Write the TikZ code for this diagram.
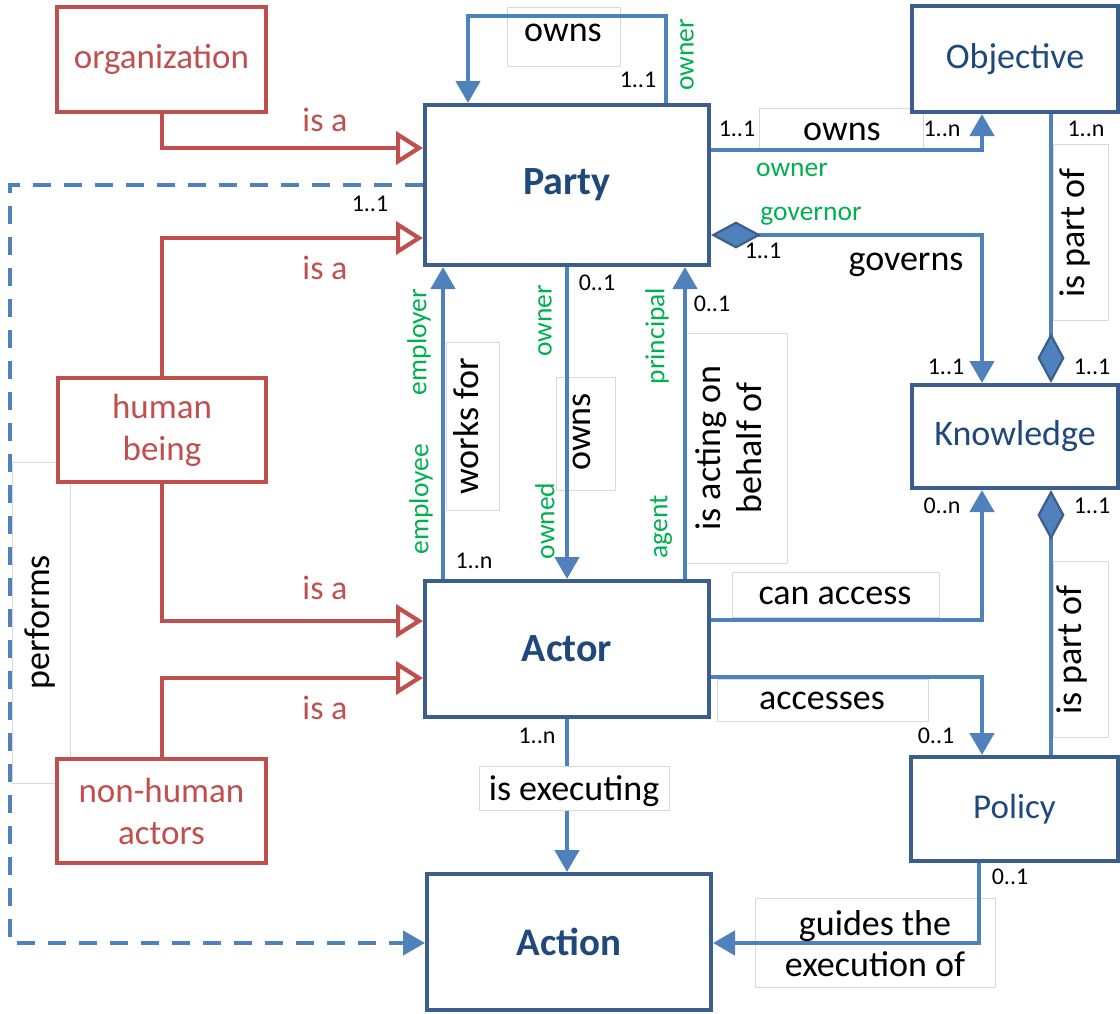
\documentclass[tikz,border=0pt]{standalone}
\usepackage{fontspec}
\setmainfont{Carlito}
\usetikzlibrary{arrows.meta}
\definecolor{bl}{HTML}{4F81BD}
\definecolor{bdark}{HTML}{3B5E8C}
\definecolor{btext}{HTML}{1F497D}
\definecolor{rd}{HTML}{C0504D}
\definecolor{gr}{HTML}{00B050}
\definecolor{lgray}{HTML}{D9D9D9}
\newcommand\fsz[2]{\fontsize{#1}{#2}\selectfont}
\tikzset{
  btri/.tip={Triangle[length=22pt,width=24pt]},
  rtri/.tip={Triangle[open,length=27pt,width=33pt,fill=white]},
  bdia/.tip={Diamond[length=50pt,width=27pt,fill=bl,color=bdark,line width=2.2pt]},
  bbox/.style={draw=bdark, line width=4pt, fill=white, text=btext, inner sep=0pt},
  rbox/.style={draw=rd, line width=4pt, fill=white, text=rd, inner sep=0pt, align=center, font=\fsz{35}{42}},
  conn/.style={draw=bl, line width=4.5pt},
  isa/.style={draw=rd, line width=4.2pt, -{rtri}},
  lbox/.style={draw=lgray, line width=0.8pt, fill=white, inner sep=0pt},
  rel/.style={font=\fsz{36}{41}, inner sep=0pt, align=center},
  role/.style={font=\fsz{27.5}{33}, text=gr, inner sep=0pt},
  mult/.style={font=\fsz{24}{28}, inner sep=0pt},
  isatxt/.style={font=\fsz{34}{40}, text=rd, inner sep=0pt},
}
\begin{document}
\begin{tikzpicture}[x=1pt,y=-1pt]
\useasboundingbox (0,0) rectangle (1120,1013);

% label boxes (behind)
\node[lbox, minimum width=113pt, minimum height=59pt] (bownsA) at (563.5,36.5) {};
\node[lbox, minimum width=164pt, minimum height=42pt] (bownsB) at (841,129) {};
\node[lbox, minimum width=53pt, minimum height=168pt] (bworks) at (472.5,426) {};
\node[lbox, minimum width=59pt, minimum height=113pt] (bownsC) at (585.5,433.5) {};
\node[lbox, minimum width=104pt, minimum height=230pt] (bacting) at (735,448) {};
\node[lbox, minimum width=55pt, minimum height=176pt] (bpartA) at (1080.5,232) {};
\node[lbox, minimum width=207pt, minimum height=45pt] (bcan) at (835.5,594.5) {};
\node[lbox, minimum width=211pt, minimum height=42pt] (bacc) at (822.5,700) {};
\node[lbox, minimum width=55pt, minimum height=176pt] (bpartB) at (1080.5,649) {};
\node[lbox, minimum width=58pt, minimum height=321pt] (bperf) at (41,622.5) {};
\node[lbox, minimum width=240pt, minimum height=89pt] (bguide) at (875,942.5) {};

% main boxes
\node[bbox, minimum width=284pt, minimum height=160pt, font=\bfseries\fsz{40}{48}] (party) at (567,185) {Party};
\node[bbox, minimum width=284pt, minimum height=136pt, font=\bfseries\fsz{40}{48}] (actor) at (567,649) {Actor};
\node[bbox, minimum width=284pt, minimum height=136pt, font=\bfseries\fsz{39}{47}] (action) at (569,942) {Action};
\node[bbox, minimum width=206pt, minimum height=106pt, font=\fsz{36}{43}] (objective) at (1015,59) {Objective};
\node[bbox, minimum width=206pt, minimum height=103pt, font=\fsz{36}{43}] (knowledge) at (1015,436.5) {Knowledge};
\node[bbox, minimum width=207pt, minimum height=104pt, font=\fsz{35}{42}] (policy) at (1014.5,809) {Policy};
\node[rbox, minimum width=209pt, minimum height=105pt] (organization) at (161.5,59.5) {organization};
\node[rbox, minimum width=208pt, minimum height=104pt] (human) at (162,430) {human\\being};
\node[rbox, minimum width=209pt, minimum height=104pt] (nonhuman) at (161.5,811) {non-human\\actors};

% bend coordinates
\coordinate (loopR) at (666,16);
\coordinate (loopL) at (468,16);
\coordinate (c1) at (982,150);
\coordinate (c2) at (982,235);
\coordinate (c3) at (1051,0);
\coordinate (c4) at (443,0);
\coordinate (c5) at (685,0);
\coordinate (c6) at (982,620);
\coordinate (c7) at (982,677);
\coordinate (c8) at (979,943);
\coordinate (d1) at (10,185);
\coordinate (d2) at (10,943);
\coordinate (r1) at (162,148);
\coordinate (r2) at (162,238);
\coordinate (r3) at (162,621);
\coordinate (r4) at (162,678);

% blue connectors
\draw[conn,-{btri}] (party.north -| loopR) -- (loopR) -- (loopL) -- (party.north -| loopL);
\draw[conn,-{btri}] (party.east |- c1) -- (c1) -- (c1 |- objective.south);
\draw[conn,{bdia}-{btri}] (party.east |- c2) -- (c2) -- (c2 |- knowledge.north);
\draw[conn,-{bdia}] (c3 |- objective.south) -- (c3 |- knowledge.north);
\draw[conn,-{bdia}] (c3 |- policy.north) -- (c3 |- knowledge.south);
\draw[conn,-{btri}] (c4 |- actor.north) -- (c4 |- party.south);
\draw[conn,-{btri}] (party.south) -- (actor.north);
\draw[conn,-{btri}] (c5 |- actor.north) -- (c5 |- party.south);
\draw[conn,-{btri}] (actor.east |- c6) -- (c6) -- (c6 |- knowledge.south);
\draw[conn,-{btri}] (actor.east |- c7) -- (c7) -- (c7 |- policy.north);
\draw[conn,-{btri}] (actor.south) -- (actor.south |- action.north);
\draw[conn,-{btri}] (policy.south -| c8) -- (c8) -- (action.east |- c8);
\draw[conn,dash pattern=on 18pt off 13pt,-{btri}] (party.west |- d1) -- (d1) -- (d2) -- (action.west |- d2);

% red generalisations
\draw[isa] (organization.south -| r1) -- (r1) -- (party.west |- r1);
\draw[isa] (human.north -| r2) -- (r2) -- (party.west |- r2);
\draw[isa] (human.south -| r3) -- (r3) -- (actor.west |- r3);
\draw[isa] (nonhuman.north -| r4) -- (r4) -- (actor.west |- r4);

% box over the line
\node[lbox, minimum width=190pt, minimum height=44pt] (bexec) at (574,788) {};

% relation labels
\node[rel] (tOwnsA) at (563,33) {owns};
\node[rel] (tOwnsB) at (842,132) {owns};
\node[rel] (tGov) at (906,265) {governs};
\node[rel, rotate=90] (tWorks) at (466,426) {works for};
\node[rel, rotate=90] (tOwnsC) at (582,432) {owns};
\node[rel, rotate=90] (tActing) at (729,448) {is acting on\\behalf of};
\node[rel, rotate=90] (tPartA) at (1075,233) {is part of};
\node[rel, rotate=90] (tPartB) at (1072,650) {is part of};
\node[rel] (tCan) at (835,596) {can access};
\node[rel] (tAcc) at (822,701) {accesses};
\node[rel] (tExec) at (574,791) {is executing};
\node[rel] (tGuide) at (875,944) {guides the\\execution of};
\node[rel, rotate=90] (tPerf) at (40,622) {performs};

% is-a labels
\node[isatxt] (tIsa1) at (325,120) {is a};
\node[isatxt] (tIsa2) at (325,268) {is a};
\node[isatxt] (tIsa3) at (325,588) {is a};
\node[isatxt] (tIsa4) at (325,708) {is a};

% role labels
\node[role, rotate=90] (rOwnerA) at (687,55) {owner};
\node[role] (rOwnerB) at (792,170) {owner};
\node[role] (rGov) at (811,216) {governor};
\node[role, rotate=90] (rEmployer) at (419,342) {employer};
\node[role, rotate=90] (rEmployee) at (421,499) {employee};
\node[role, rotate=90] (rOwnerC) at (545,321) {owner};
\node[role, rotate=90] (rOwned) at (545,521) {owned};
\node[role, rotate=90] (rPrincipal) at (657,336) {principal};
\node[role, rotate=90] (rAgent) at (661,527) {agent};

% multiplicities
\node[mult] (m1) at (638,80) {1..1};
\node[mult] (m2) at (737,129) {1..1};
\node[mult] (m3) at (942,129) {1..n};
\node[mult] (m4) at (1086,129) {1..n};
\node[mult] (m5) at (763,251) {1..1};
\node[mult] (m6) at (370,204) {1..1};
\node[mult] (m7) at (946,367) {1..1};
\node[mult] (m8) at (1092,367) {1..1};
\node[mult] (m9) at (597,283) {0..1};
\node[mult] (m10) at (712,304) {0..1};
\node[mult] (m11) at (474,561) {1..n};
\node[mult] (m12) at (942,506) {0..n};
\node[mult] (m13) at (1092,506) {1..1};
\node[mult] (m14) at (936,736) {0..1};
\node[mult] (m15) at (537,736) {1..n};
\node[mult] (m16) at (1010,877) {0..1};
\end{tikzpicture}
\end{document}
